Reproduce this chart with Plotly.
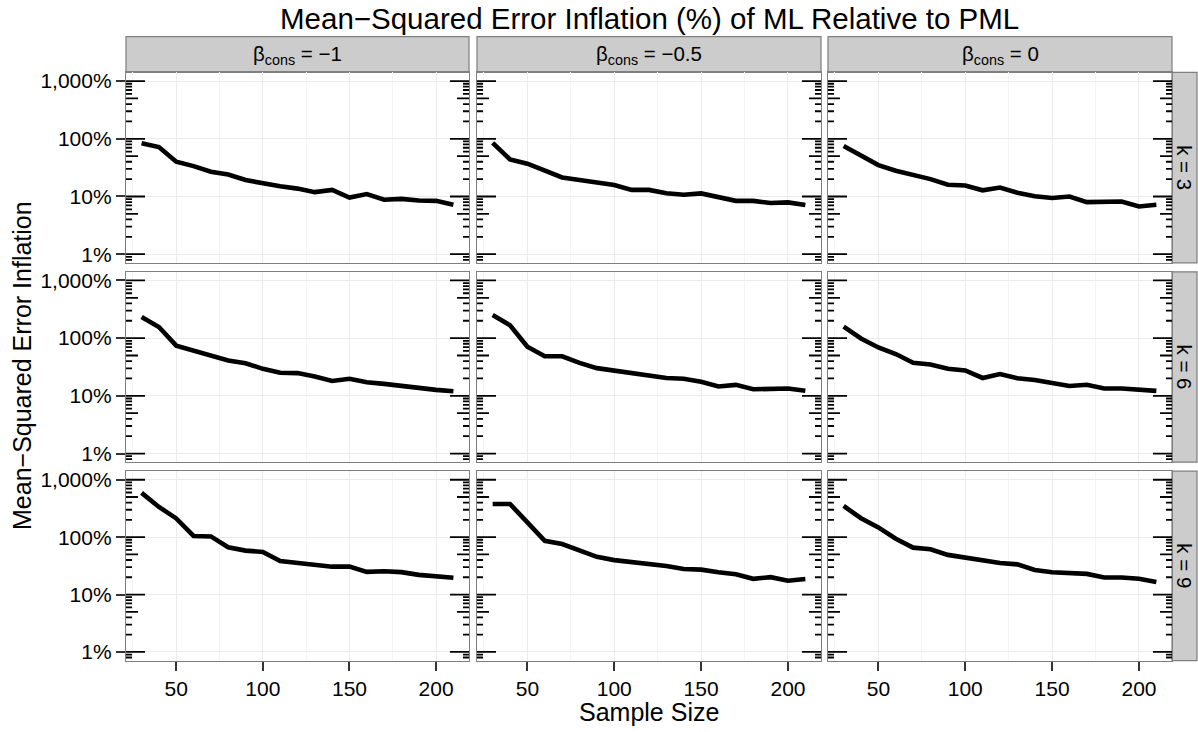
import plotly.graph_objects as go
import math

# ---------------- data ----------------
SAMPLE_SIZE = [30, 40, 50, 60, 70, 80, 90, 100, 110, 120, 130, 140, 150, 160, 170, 180, 190, 200, 210]

BETA_LABELS = ["β<sub>cons</sub> = −1", "β<sub>cons</sub> = −0.5", "β<sub>cons</sub> = 0"]
K_LABELS = ["k = 3", "k = 6", "k = 9"]

# MSE inflation (%) by k (rows) and beta_cons (columns)
mse_k3_bm1 = [84, 72, 40, 33.6, 26.8, 24, 19.3, 16.9, 15, 13.7, 11.9, 13, 9.6, 11, 8.8, 9.1, 8.5, 8.4, 7.2]
mse_k3_bm05 = [85, 44, 37, 28.7, 21.4, 19.3, 17.8, 15.8, 13, 13, 11.4, 10.7, 11.3, 9.7, 8.4, 8.4, 7.7, 7.9, 7.1]
mse_k3_b0 = [75, 50, 35, 28, 23.5, 20, 16, 15.5, 12.8, 14.3, 11.6, 10.1, 9.4, 10, 8, 8, 8.2, 6.7, 7.2]

mse_k6_bm1 = [232, 156, 74, 60.7, 47.9, 40.9, 36.8, 29.4, 25.1, 24.8, 21.7, 18.1, 19.8, 17.2, 16.1, 14.7, 13.7, 12.7, 12]
mse_k6_bm05 = [251, 167, 71, 48.5, 48.5, 37.3, 30.2, 27.2, 25.5, 22.3, 20.4, 19.8, 17.6, 14.5, 15.5, 13, 13.5, 13.4, 12.3]
mse_k6_b0 = [158, 98.6, 69, 53, 37.3, 34.9, 29.4, 27.5, 20.4, 23.9, 20.1, 18.8, 16.7, 14.8, 15.6, 13.4, 13.4, 12.8, 12.2]

mse_k9_bm1 = [591, 336, 212, 105, 103, 66.5, 58.3, 55.3, 38.3, 35.8, 33.6, 30.6, 30.6, 24.8, 25.5, 24.6, 22, 20.4, 19.6]
mse_k9_bm05 = [378, 378, 181, 86.5, 75.9, 59.8, 45.4, 39.8, 37.3, 34.9, 31.4, 27.9, 27.2, 24.5, 22.6, 18.8, 20.1, 17.4, 18.6]
mse_k9_b0 = [349, 214, 148, 93.6, 65.6, 61.5, 49.1, 43.6, 40.3, 35.4, 33.6, 26.8, 24.5, 23.5, 22.9, 19.8, 19.8, 18.8, 16.5]

PANELS = [
    [mse_k3_bm1, mse_k3_bm05, mse_k3_b0],
    [mse_k6_bm1, mse_k6_bm05, mse_k6_b0],
    [mse_k9_bm1, mse_k9_bm05, mse_k9_b0],
]

Y_TICKS = [1, 10, 100, 1000]
Y_TICK_TEXT = ["1%", "10%", "100%", "1,000%"]
X_TICKS = [50, 100, 150, 200]
X_MINOR = [25, 75, 125, 175]

# ---------------- layout geometry ----------------
W, H = 1198, 732
FONT = "Liberation Sans, Arial, Helvetica, sans-serif"
COL_PX = [(126, 469), (477, 821), (828, 1172)]
ROW_PX = [(70, 262), (271, 463), (472, 663)]
STRIP_TOP = (34, 70)
STRIP_RIGHT = (1172, 1197)

def fx(px):
    return px / W

def fy(py):
    return 1 - py / H

X_RANGE = [21, 219]
Y_RANGE = [-0.15, 3.15]

fig = go.Figure()
shapes = []
annotations = []

# logtick values (annotation_logticks style)
log_ticks = []
for dec in [0.1, 1, 10, 100, 1000]:
    for m in range(1, 10):
        v = m * dec
        lv = math.log10(v)
        if Y_RANGE[0] <= lv <= Y_RANGE[1] + 1e-9:
            kind = "long" if m == 1 else ("mid" if m == 5 else "short")
            log_ticks.append((v, kind))
TICK_LEN = {"long": 19, "mid": 12, "short": 6}

for r in range(3):
    for c in range(3):
        i = r * 3 + c + 1
        xa = "x" if i == 1 else f"x{i}"
        ya = "y" if i == 1 else f"y{i}"
        fig.add_trace(go.Scatter(
            x=SAMPLE_SIZE, y=PANELS[r][c], mode="lines",
            line=dict(color="black", width=4.6),
            xaxis=xa, yaxis=ya, showlegend=False, hoverinfo="skip",
        ))
        x0, x1 = COL_PX[c]
        y0, y1 = ROW_PX[r]
        bottom = r == 2
        left = c == 0
        fig.layout[f"xaxis{i}" if i > 1 else "xaxis"] = dict(
            domain=[fx(x0), fx(x1)], anchor=ya, range=X_RANGE,
            tickvals=X_TICKS, showticklabels=bottom,
            ticks="outside" if bottom else "", ticklen=9, tickwidth=1.6, tickcolor="#333333",
            tickfont=dict(family=FONT, size=21, color="black"),
            showgrid=True, gridcolor="#EBEBEB", gridwidth=1.2,
            minor=dict(tickvals=X_MINOR, showgrid=True, gridcolor="#F4F4F4", gridwidth=1.4, ticks=""),
            showline=True, mirror=True, linecolor="#7F7F7F", linewidth=1.3,
            zeroline=False, fixedrange=True,
        )
        fig.layout[f"yaxis{i}" if i > 1 else "yaxis"] = dict(
            domain=[fy(y1), fy(y0)], anchor=xa, type="log", range=Y_RANGE,
            tickvals=Y_TICKS, ticktext=Y_TICK_TEXT, showticklabels=left,
            ticks="outside" if left else "", ticklen=9, tickwidth=1.6, tickcolor="#333333",
            tickfont=dict(family=FONT, size=21, color="black"),
            showgrid=True, gridcolor="#EBEBEB", gridwidth=1.2,
            showline=True, mirror=True, linecolor="#7F7F7F", linewidth=1.3,
            zeroline=False, fixedrange=True,
        )
        # log ticks on left and right sides
        wpx = x1 - x0
        for v, kind in log_ticks:
            L = TICK_LEN[kind] / wpx
            shapes.append(dict(type="line", xref=f"{xa} domain", yref=ya,
                               x0=0, x1=L, y0=v, y1=v, line=dict(color="black", width=1.8), layer="above"))
            shapes.append(dict(type="line", xref=f"{xa} domain", yref=ya,
                               x0=1 - L, x1=1, y0=v, y1=v, line=dict(color="black", width=1.8), layer="above"))

# top strips
for c in range(3):
    x0, x1 = COL_PX[c]
    shapes.append(dict(type="rect", xref="paper", yref="paper",
                       x0=fx(x0), x1=fx(x1), y0=fy(STRIP_TOP[1]), y1=fy(STRIP_TOP[0]),
                       fillcolor="#CCCCCC", line=dict(color="#7F7F7F", width=1.2), layer="below"))
    annotations.append(dict(text=BETA_LABELS[c], xref="paper", yref="paper",
                            x=fx((x0 + x1) / 2), y=fy((STRIP_TOP[0] + STRIP_TOP[1]) / 2),
                            xanchor="center", yanchor="middle", showarrow=False,
                            font=dict(family=FONT, size=20.5, color="black")))
# right strips
for r in range(3):
    y0, y1 = ROW_PX[r]
    shapes.append(dict(type="rect", xref="paper", yref="paper",
                       x0=fx(STRIP_RIGHT[0]), x1=fx(STRIP_RIGHT[1]), y0=fy(y1), y1=fy(y0),
                       fillcolor="#CCCCCC", line=dict(color="#7F7F7F", width=1.2), layer="below"))
    annotations.append(dict(text=K_LABELS[r], xref="paper", yref="paper",
                            x=fx((STRIP_RIGHT[0] + STRIP_RIGHT[1]) / 2), y=fy((y0 + y1) / 2),
                            xanchor="center", yanchor="middle", textangle=90, showarrow=False,
                            font=dict(family=FONT, size=20.5, color="black")))

# titles
annotations.append(dict(text="Mean−Squared Error Inflation (%) of ML Relative to PML",
                        xref="paper", yref="paper", x=fx(649), y=fy(16),
                        xanchor="center", yanchor="middle", showarrow=False,
                        font=dict(family=FONT, size=29.5, color="black")))
annotations.append(dict(text="Sample Size", xref="paper", yref="paper", x=fx(649), y=fy(715),
                        xanchor="center", yanchor="middle", showarrow=False,
                        font=dict(family=FONT, size=25, color="black")))
annotations.append(dict(text="Mean−Squared Error Inflation", xref="paper", yref="paper", x=fx(22), y=fy(366),
                        xanchor="center", yanchor="middle", textangle=-90, showarrow=False,
                        font=dict(family=FONT, size=25, color="black")))

fig.update_layout(
    width=W, height=H, margin=dict(l=0, r=0, t=0, b=0),
    paper_bgcolor="white", plot_bgcolor="white",
    shapes=shapes, annotations=annotations, showlegend=False,
)

fig.write_html("out.html")
